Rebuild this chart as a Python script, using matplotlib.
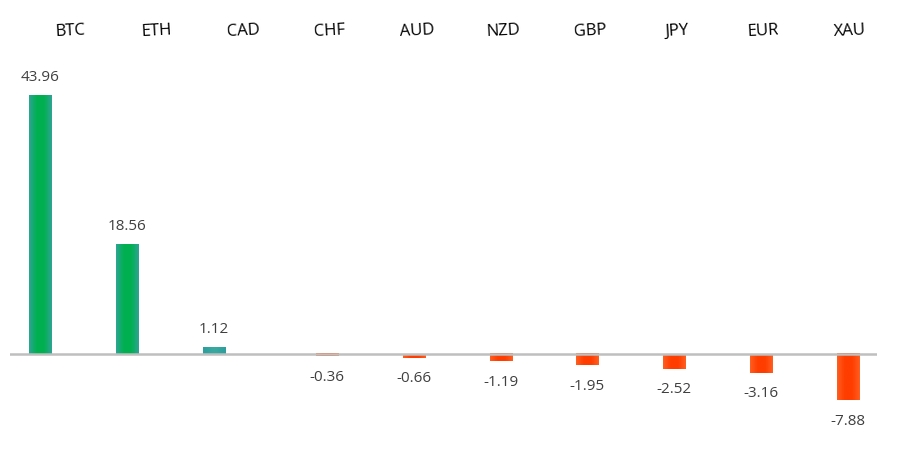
import matplotlib
matplotlib.use("Agg")
import matplotlib.pyplot as plt
import numpy as np
from matplotlib.colors import LinearSegmentedColormap

categories = ["BTC", "ETH", "CAD", "CHF", "AUD", "NZD", "GBP", "JPY", "EUR", "XAU"]
values = [43.96, 18.56, 1.12, -0.36, -0.66, -1.19, -1.95, -2.52, -3.16, -7.88]

plt.rcParams['font.family'] = ['Open Sans', 'DejaVu Sans']

fig = plt.figure(figsize=(8.97, 4.5), dpi=100)
ax = fig.add_axes([10/897, 0, 867/897, 1])
px = 5.89  # pixels per unit
ax.set_ylim(-(450-354)/px, 354/px)
ax.set_xlim(-0.5, len(categories)-0.5)
ax.axis('off')

x = np.arange(len(categories))
width = 0.254
pos_off, neg_off = -0.15, 0.16

green_cmap = LinearSegmentedColormap.from_list("g", ["#2EA495", "#00B050", "#00B050", "#2EA495"])
cad_cmap = LinearSegmentedColormap.from_list("c", ["#2E9E9E", "#3AAAA0", "#2E9E9E"])
red_cmap = LinearSegmentedColormap.from_list("r", ["#FF5E20", "#FF3D00", "#FF3D00", "#FF5E20"])

grad = np.linspace(0, 1, 64).reshape(1, -1)
for i, v in enumerate(values):
    xc = x[i] + (pos_off if v >= 0 else neg_off)
    bars = ax.bar(xc, v, width=width, color='none', edgecolor='none', zorder=2)
    b = bars[0]
    x0, y0 = b.get_x(), b.get_y()
    w, h = b.get_width(), b.get_height()
    if v >= 0:
        cmap = green_cmap if v > 5 else cad_cmap
    else:
        cmap = red_cmap
    ax.imshow(grad, cmap=cmap, aspect='auto', extent=[x0, x0+w, y0, y0+h], zorder=2, interpolation='bicubic')
    if v >= 0:
        ax.text(xc, v + 18/px, f"{v:.2f}", ha='center', va='center', fontsize=11, color='#404040')
    else:
        ax.text(xc, v - 21/px, f"{v:.2f}", ha='center', va='center', fontsize=11, color='#404040')

ax.axhline(0, color='#BFBFBF', lw=1.8, zorder=3)

for i, c in enumerate(categories):
    ax.text(x[i] + 0.19, (354-31)/px, c, ha='center', va='center', fontsize=12,
            color='#000000', rotation=3)

ax.set_xlim(-0.5, len(categories)-0.5)
ax.set_ylim(-(450-354)/px, 354/px)
fig.savefig("out.png", dpi=100, facecolor='white')
